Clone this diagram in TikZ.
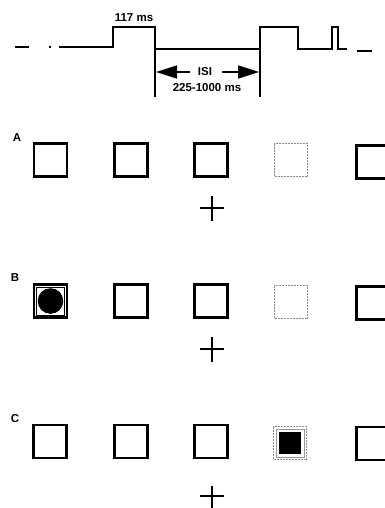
\documentclass[tikz,border=0pt]{standalone}
\usepackage{fontspec}
\setmainfont{Liberation Sans}
\usetikzlibrary{arrows.meta}
\begin{document}
\begin{tikzpicture}[x=1pt,y=-1pt,
  box/.style={draw=black,line width=2.4pt,minimum width=33pt,minimum height=33pt,inner sep=0pt},
  ghost/.style={draw=black!45,line width=1.8pt,dash pattern=on 2pt off 1pt,minimum width=33pt,minimum height=33pt,inner sep=0pt},
  lbl/.style={font=\bfseries\fontsize{11.5}{12}\selectfont,inner sep=0pt},
  rowlbl/.style={font=\bfseries\fontsize{11.5}{12}\selectfont,inner sep=0pt},
  sig/.style={line width=1.6pt},
  fix/.style={line width=2pt},
  tip/.style={-{Triangle[length=21pt,width=13pt]},line width=1.6pt}]
\useasboundingbox (0,0) rectangle (385,508);
\clip (0,0) rectangle (385,508);
\fill[white] (0,0) rectangle (385,508);

% ---- timing diagram ----
\draw[sig] (15,47) -- (29,47);
\draw[sig] (49,47) -- (51,47);
\coordinate (r1) at (113,47);
\coordinate (f1) at (155,97);
\coordinate (r2) at (260,97);
\draw[sig] (59,47) -- (r1) -- (113,27) -- (155,27) -- (f1);
\draw[sig] (155,49) -- (260,49);
\draw[sig] (r2) -- (260,27) -- (298,27) -- (298,49) -- (332,49) -- (332,27) -- (338,27) -- (338,49) -- (347,49);
\draw[sig] (357,51) -- (372,51);
\node[lbl] (dur) at (134,18) {117 ms};
\node[lbl] (isi) at (205,72) {ISI};
\node[lbl] (range) at (207,88) {225-1000 ms};
\coordinate (aL) at (156,72);
\coordinate (aR) at (259,72);
\draw[tip] (190,72) -- (aL);
\draw[tip] (222,72) -- (aR);

% ---- row A ----
\node[rowlbl] (lA) at (17,138) {A};
\node[box] (a1) at (50.5,160) {};
\node[box] (a2) at (131,160) {};
\node[box] (a3) at (211,160) {};
\node[ghost] (a4) at (291,160) {};
\node[box] (a5) at (373,162) {};
\coordinate (fa) at (212,208);
\draw[fix] (fa) +(-12,0) -- +(12,0) (fa) +(0,-12.5) -- +(0,12.5);

% ---- row B ----
\node[rowlbl] (lB) at (15,278) {B};
\node[box] (b1) at (50.5,301) {};
\node[draw=black,line width=1pt,minimum width=28pt,minimum height=28pt,inner sep=0pt] (b1i) at (b1) {};
\fill (b1) circle (12.8);
\node[box] (b2) at (131,301) {};
\node[box] (b3) at (211,301) {};
\node[ghost] (b4) at (291,302) {};
\node[box] (b5) at (373,303) {};
\coordinate (fb) at (212,349);
\draw[fix] (fb) +(-12,0) -- +(12,0) (fb) +(0,-12.5) -- +(0,12.5);

% ---- row C ----
\node[rowlbl] (lC) at (15,419) {C};
\node[box] (c1) at (50,441.5) {};
\node[box] (c2) at (131,441.5) {};
\node[box] (c3) at (211,441.5) {};
\node[ghost] (c4) at (290,443) {};
\node[draw=black!40,line width=1pt,minimum width=28pt,minimum height=28pt,inner sep=0pt] (c4i) at (c4) {};
\node[fill=black,minimum width=22pt,minimum height=22pt,inner sep=0pt] (c4s) at (c4) {};
\node[box] (c5) at (373,443.5) {};
\coordinate (fc) at (212,496);
\draw[fix] (fc) +(-12,0) -- +(12,0) (fc) +(0,-10) -- +(0,14);
\end{tikzpicture}
\end{document}
